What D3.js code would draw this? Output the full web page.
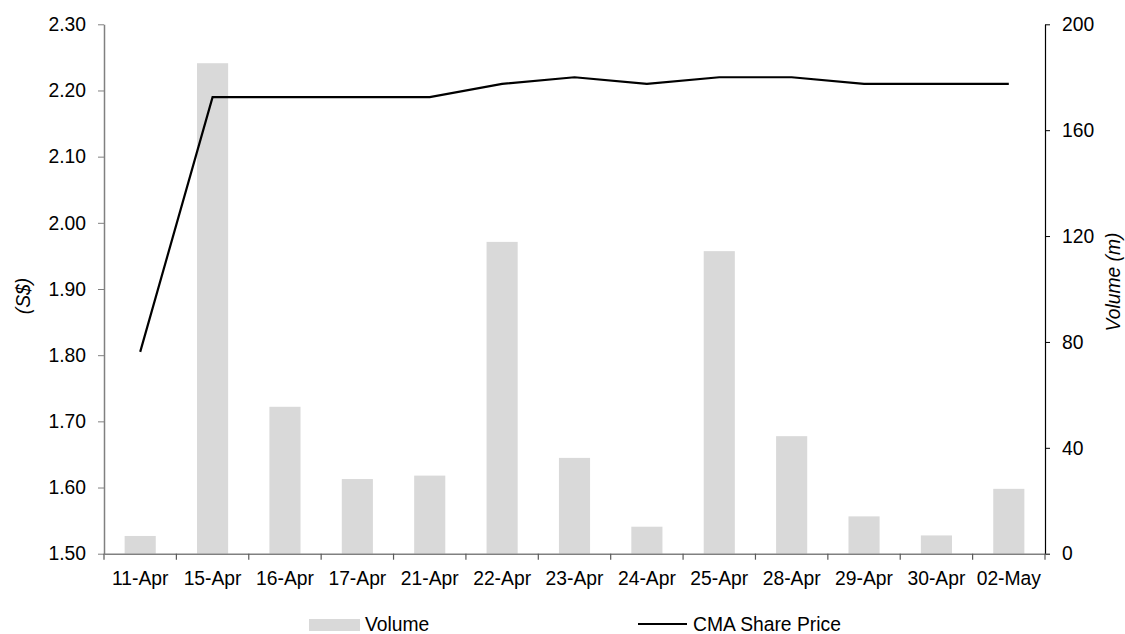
<!DOCTYPE html>
<html><head><meta charset="utf-8">
<script src="https://cdn.jsdelivr.net/npm/d3@7"></script>
<style>
body{margin:0;background:#fff;}
svg{display:block;font-family:"Liberation Sans",Arial,sans-serif;}
</style></head>
<body><svg id="c" width="1125" height="634"></svg>
<script>
const categories = ["11-Apr","15-Apr","16-Apr","17-Apr","21-Apr","22-Apr","23-Apr","24-Apr","25-Apr","28-Apr","29-Apr","30-Apr","02-May"];
const volume = [6.7,185.3,55.5,28.2,29.5,117.8,36.2,10.2,114.3,44.4,14.1,6.9,24.5];
const price = [1.805,2.19,2.19,2.19,2.19,2.21,2.22,2.21,2.22,2.22,2.21,2.21,2.21];
const priceTicks = [1.5,1.6,1.7,1.8,1.9,2.0,2.1,2.2,2.3];
const volumeTicks = [0,40,80,120,160,200];

const svg = d3.select("#c");
const L = 104, R = 1045, T = 24.3, B = 553.7;
const fs = "19.3px";

const x = d3.scaleBand().domain(categories).range([L, R]).paddingInner(0).paddingOuter(0);
const yP = d3.scaleLinear().domain([1.5, 2.3]).range([B, T]);
const yV = d3.scaleLinear().domain([0, 200]).range([B, T]);

// bars
const bw = x.bandwidth() * 0.43;
svg.append("g").selectAll("rect").data(categories).join("rect")
  .attr("x", (d) => x(d) + x.bandwidth()/2 - bw/2)
  .attr("y", (d,i) => yV(volume[i]))
  .attr("width", bw)
  .attr("height", (d,i) => yV(0) - yV(volume[i]))
  .attr("fill", "#d9d9d9");

// line
const line = d3.line().x((d,i) => x(categories[i]) + x.bandwidth()/2).y(d => yP(d));
svg.append("path").datum(price).attr("d", line)
  .attr("fill", "none").attr("stroke", "#000").attr("stroke-width", 2.2);

// left axis
const gl = svg.append("g").attr("transform", `translate(${L},0)`)
  .call(d3.axisLeft(yP).tickValues(priceTicks).tickFormat(d3.format(".2f")).tickSize(6).tickSizeOuter(0).tickPadding(12));
gl.select(".domain").attr("stroke", "#808080").attr("stroke-width", 1.5);
gl.selectAll(".tick line").attr("stroke", "#808080");
gl.selectAll("text").attr("font-size", fs).attr("fill", "#000").attr("font-family", "Liberation Sans, Arial, sans-serif");

// right axis
const gr = svg.append("g").attr("transform", `translate(${R},0)`)
  .call(d3.axisRight(yV).tickValues(volumeTicks).tickFormat(d3.format("d")).tickSize(5).tickSizeOuter(0).tickPadding(12));
gr.select(".domain").attr("stroke", "#000").attr("stroke-width", 1.2);
gr.selectAll(".tick line").attr("stroke", "#000");
gr.selectAll("text").attr("font-size", fs).attr("fill", "#000").attr("font-family", "Liberation Sans, Arial, sans-serif");

// bottom axis
const gb = svg.append("g").attr("transform", `translate(0,${B})`)
  .call(d3.axisBottom(x).tickSize(0).tickSizeOuter(0).tickPadding(18));
gb.select(".domain").attr("stroke", "#808080").attr("stroke-width", 1.5);
gb.selectAll("text").attr("font-size", fs).attr("fill", "#000").attr("font-family", "Liberation Sans, Arial, sans-serif");
// boundary ticks
const bounds = categories.map(c => x(c)).concat([x(categories[categories.length-1]) + x.bandwidth()]);
svg.append("g").selectAll("line").data(bounds).join("line")
  .attr("x1", d => d).attr("x2", d => d).attr("y1", B).attr("y2", B + 6)
  .attr("stroke", "#595959").attr("stroke-width", 1.2);

// axis titles
svg.append("text").attr("transform", "translate(23,296) rotate(-90)")
  .attr("text-anchor", "middle").attr("dy", "0.35em").attr("font-size", fs).attr("font-style", "italic").text("(S$)");
svg.append("text").attr("transform", "translate(1113,282) rotate(-90)")
  .attr("text-anchor", "middle").attr("dy", "0.35em").attr("font-size", fs).attr("font-style", "italic").text("Volume (m)");

// legend
const lg = svg.append("g");
lg.append("rect").attr("x", 309).attr("y", 619).attr("width", 51).attr("height", 12).attr("fill", "#d9d9d9");
lg.append("text").attr("x", 365).attr("y", 624).attr("dy", "0.35em").attr("font-size", fs).text("Volume");
lg.append("line").attr("x1", 638).attr("x2", 687).attr("y1", 624).attr("y2", 624).attr("stroke", "#000").attr("stroke-width", 2.2);
lg.append("text").attr("x", 693).attr("y", 624).attr("dy", "0.35em").attr("font-size", fs).text("CMA Share Price");
</script></body></html>
